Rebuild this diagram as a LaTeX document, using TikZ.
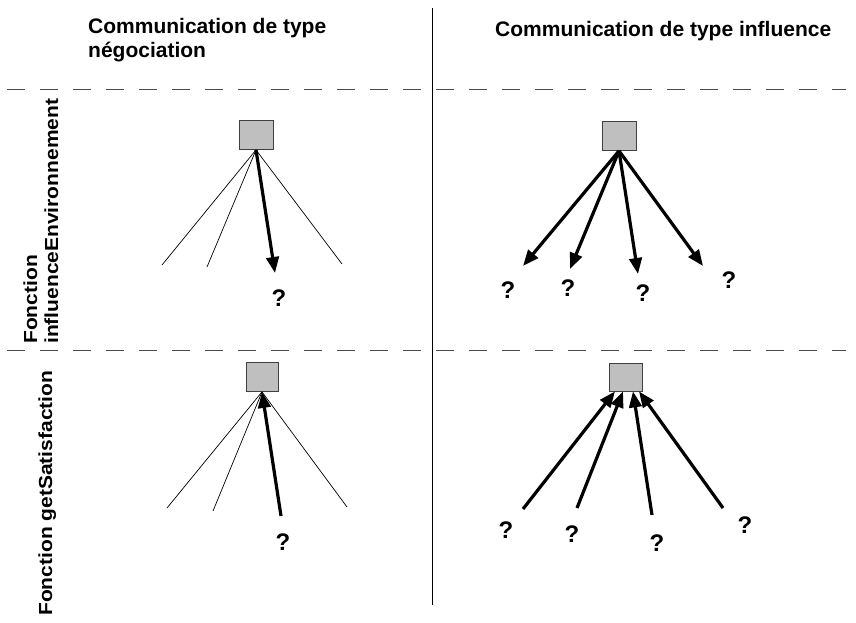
\documentclass[tikz,border=0pt]{standalone}
\usepackage{fontspec}
\setmainfont{Liberation Sans}
\usetikzlibrary{arrows.meta}
\tikzset{
  lbl/.style={font=\bfseries\fontsize{21}{24}\selectfont, inner sep=0pt},
  qm/.style={font=\bfseries\fontsize{24}{26}\selectfont, inner sep=0pt},
  agent/.style={draw=black!75, fill=black!25, line width=0.8pt, minimum width=34pt, minimum height=29pt, inner sep=0pt},
  thin/.style={line width=0.7pt},
  thick arrow/.style={line width=3.2pt, -{Triangle[length=16pt,width=12.5pt]}},
  sep/.style={line width=0.9pt, black!70, dash pattern=on 18pt off 15pt},
}
\newcommand{\narrow}[1]{\scalebox{1}[0.9]{#1}}
\begin{document}
\begin{tikzpicture}[x=1pt,y=-1pt]
\useasboundingbox (0,0) rectangle (856,623);
% grid lines
\coordinate (vt) at (432,8);
\coordinate (vb) at (432,605);
\draw[line width=0.9pt] (vt) -- (vb);
\coordinate (h1l) at (7,89);
\coordinate (h1r) at (846,89);
\coordinate (h2l) at (7,350);
\coordinate (h2r) at (846,350);
\draw[sep] (h1l) -- (h1r);
\draw[sep] (h2l) -- (h2r);
% headers
\node[lbl, anchor=base west] (hl1) at (88,34) {Communication de type};
\node[lbl, anchor=base west] (hl2) at (88,58) {négociation};
\node[lbl, anchor=base west] (hr) at (495,37) {Communication de type influence};
% row labels
\node[lbl, rotate=90, anchor=base west] (r1a) at (37,344) {\narrow{Fonction}};
\node[lbl, rotate=90, anchor=base west] (r1b) at (58,344) {\narrow{influenceEnvironnement}};
\node[lbl, rotate=90, anchor=base west] (r2) at (52,616) {\narrow{Fonction getSatisfaction}};

% ---- top-left: negotiation, influenceEnvironnement
\node[agent] (tl) at (256,135) {};
\coordinate (tl1) at (162,265);
\coordinate (tl2) at (207,267);
\coordinate (tl3) at (342,264);
\coordinate (tlt) at (275,273);
\node[qm] (tlq) at (279,298) {?};
\draw[thin] (tl.south) -- (tl1);
\draw[thin] (tl.south) -- (tl2);
\draw[thin] (tl.south) -- (tl3);
\draw[thick arrow] (tl.south) -- (tlt);

% ---- top-right: influence, influenceEnvironnement
\node[agent] (tr) at (619,136) {};
\coordinate (tr1) at (523,266);
\coordinate (tr2) at (570,269);
\coordinate (tr3) at (638,274);
\coordinate (tr4) at (703,266);
\node[qm] (trq1) at (508,290) {?};
\node[qm] (trq2) at (568,288) {?};
\node[qm] (trq3) at (643,293) {?};
\node[qm] (trq4) at (729,280) {?};
\draw[thick arrow] (tr.south) -- (tr1);
\draw[thick arrow] (tr.south) -- (tr2);
\draw[thick arrow] (tr.south) -- (tr3);
\draw[thick arrow] (tr.south) -- (tr4);

% ---- bottom-left: negotiation, getSatisfaction
\node[agent, minimum width=32pt] (bl) at (262,377) {};
\coordinate (bl1) at (167,508);
\coordinate (bl2) at (213,511);
\coordinate (bl3) at (347,507);
\coordinate (bls) at (281,516);
\node[qm] (blq) at (283,542) {?};
\draw[thin] (bl.south) -- (bl1);
\draw[thin] (bl.south) -- (bl2);
\draw[thin] (bl.south) -- (bl3);
\draw[thick arrow] (bls) -- (bl.south);

% ---- bottom-right: influence, getSatisfaction
\node[agent, minimum width=33pt, minimum height=28pt] (br) at (626,377) {};
\coordinate (br1) at (523,509);
\coordinate (br2) at (577,508);
\coordinate (br3) at (652,515);
\coordinate (br4) at (723,508);
\node[qm] (brq1) at (506,530) {?};
\node[qm] (brq2) at (572,534) {?};
\node[qm] (brq3) at (657,543) {?};
\node[qm] (brq4) at (745,525) {?};
\draw[thick arrow] (br1) -- ([xshift=-11pt]br.south);
\draw[thick arrow] (br2) -- ([xshift=-3pt]br.south);
\draw[thick arrow] (br3) -- ([xshift=7pt]br.south);
\draw[thick arrow] (br4) -- ([xshift=13pt]br.south);
\end{tikzpicture}
\end{document}
